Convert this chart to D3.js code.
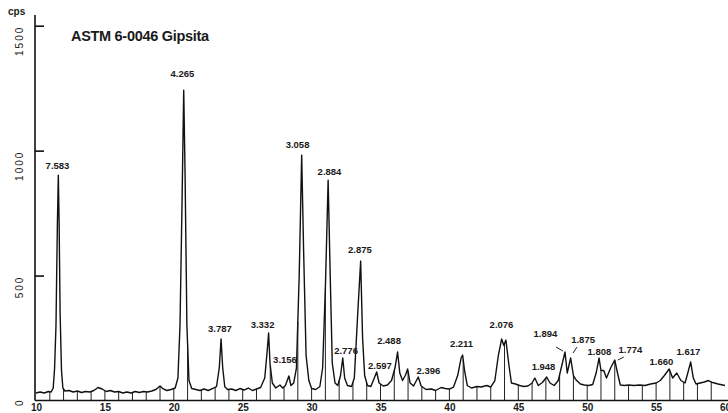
<!DOCTYPE html>
<html>
<head>
<meta charset="utf-8">
<script src="https://cdn.jsdelivr.net/npm/d3@7"></script>
<style>
  html, body { margin: 0; padding: 0; background: #fff; }
  svg { display: block; }
  text { font-family: "Liberation Sans", Arial, sans-serif; fill: #1a1a1a; }
</style>
</head>
<body>
<svg id="chart" width="728" height="413"></svg>
<script>
// 2-theta (deg) / intensity (cps)
const twoTheta = [
  10.0, 10.3, 10.6, 10.9, 11.1, 11.25, 11.35, 11.45, 11.55, 11.62, 11.68, 11.75, 11.85, 11.95,
  12.1, 12.4, 12.7, 13.0, 13.3, 13.6, 13.9, 14.2, 14.5, 14.8, 15.1, 15.4, 15.7, 16.0, 16.3,
  16.6, 16.9, 17.2, 17.5, 17.8, 18.1, 18.4, 18.7, 19.0, 19.2, 19.5, 19.8, 20.1, 20.3, 20.45,
  20.6, 20.72, 20.82, 20.95, 21.1, 21.3, 21.6, 21.9, 22.2, 22.5, 22.8, 23.1, 23.3, 23.43,
  23.55, 23.7, 23.9, 24.2, 24.5, 24.8, 25.1, 25.4, 25.7, 26.0, 26.3, 26.6, 26.78, 26.88,
  26.98, 27.15, 27.4, 27.7, 27.9, 28.1, 28.35, 28.5, 28.7, 28.9, 29.1, 29.28, 29.42, 29.6,
  29.8, 30.0, 30.3, 30.6, 30.8, 31.0, 31.2, 31.35, 31.5, 31.7, 31.9, 32.1, 32.26, 32.4,
  32.6, 32.9, 33.1, 33.35, 33.56, 33.7, 33.85, 34.05, 34.3, 34.55, 34.72, 34.9, 35.2, 35.5,
  35.8, 36.05, 36.24, 36.4, 36.6, 36.8, 36.97, 37.15, 37.4, 37.74, 37.95, 38.3, 38.7, 39.0,
  39.4, 39.7, 40.0, 40.3, 40.6, 40.85, 40.96, 41.1, 41.3, 41.6, 42.0, 42.3, 42.7, 43.0,
  43.3, 43.55, 43.79, 43.95, 44.1, 44.3, 44.5, 44.8, 45.1, 45.4, 45.7, 46.0, 46.2, 46.45,
  46.75, 47.06, 47.3, 47.6, 47.9, 48.2, 48.39, 48.55, 48.8, 49.0, 49.2, 49.5, 49.8, 50.1,
  50.4, 50.65, 50.86, 51.0, 51.2, 51.4, 51.7, 52.0, 52.2, 52.4, 52.7, 53.0, 53.4, 53.8,
  54.2, 54.6, 55.0, 55.3, 55.6, 55.95, 56.2, 56.5, 56.8, 57.1, 57.3, 57.51, 57.7, 57.9,
  58.2, 58.5, 58.8, 59.1, 59.5, 60.0
];
const counts = [
  30, 34, 30, 36, 34, 50, 130, 300, 700, 902, 700, 350, 120, 50,
  38, 40, 34, 38, 32, 36, 34, 40, 52, 46, 36, 40, 34, 36, 30,
  34, 30, 36, 32, 36, 34, 38, 44, 58, 48, 40, 44, 50, 90, 300,
  800, 1242, 900, 300, 80, 48, 44, 40, 46, 40, 48, 56, 130, 246,
  130, 55, 44, 46, 40, 48, 42, 50, 40, 46, 52, 90, 200, 270,
  150, 70, 50, 62, 50, 60, 98, 60, 70, 130, 500, 982, 600, 180,
  80, 48, 44, 56, 130, 450, 882, 500, 150, 70, 60, 100, 170, 90,
  60, 56, 90, 350, 558, 250, 100, 60, 56, 90, 114, 70, 58, 62,
  80, 130, 194, 110, 80, 100, 126, 70, 58, 94, 58, 44, 46, 40,
  52, 48, 46, 54, 100, 170, 182, 120, 60, 50, 56, 54, 60, 54,
  80, 180, 246, 220, 242, 150, 70, 66, 60, 56, 58, 70, 90, 60,
  72, 94, 70, 60, 80, 150, 194, 110, 170, 100, 82, 66, 62, 60,
  64, 110, 170, 120, 120, 90, 130, 162, 110, 62, 60, 62, 60, 62,
  60, 66, 70, 80, 100, 126, 90, 110, 80, 70, 110, 154, 90, 66,
  70, 74, 80, 72, 66, 60
];

// peak d-spacing labels: text, 2-theta, cps of the label baseline
const peakText = ["7.583", "4.265", "3.787", "3.332", "3.156", "3.058", "2.884", "2.776", "2.875",
  "2.597", "2.488", "2.396", "2.211", "2.076", "1.948", "1.894", "1.875", "1.808", "1.774", "1.660", "1.617"];
const peakLabelTheta = [11.56, 20.63, 23.35, 26.44, 28.07, 28.98, 31.30, 32.50, 33.51,
  34.96, 35.62, 38.48, 40.88, 43.78, 46.83, 46.97, 49.70, 50.89, 53.14, 55.39, 57.35];
const peakLabelCps = [926, 1294, 274, 290, 150, 1010, 902, 186, 590,
  126, 226, 106, 214, 290, 122, 254, 230, 182, 190, 142, 182];

// leader lines from label to peak: [theta1, cps1, theta2, cps2]
const leaders = [
  [47.74, 214, 48.24, 198],
  [49.26, 214, 48.97, 190],
  [52.66, 174, 52.22, 162]
];

const xTicks = [10, 15, 20, 25, 30, 35, 40, 45, 50, 55, 60];
const yTicks = [0, 500, 1000, 1500];

const svg = d3.select("#chart");

const x = d3.scaleLinear().domain([10, 60]).range([36, 725]);
const y = d3.scaleLinear().domain([0, 1500]).range([400.5, 25.7]);

const data = twoTheta.map((t, i) => ({ t: t, c: counts[i] }));

// degree hatch lines from the axis up to the trace
const bis = d3.bisector(d => d.t).left;
function traceAt(t) {
  let i = bis(data, t);
  if (i <= 0) return data[0].c;
  if (i >= data.length) return data[data.length - 1].c;
  let a = data[i - 1], b = data[i];
  return a.c + (b.c - a.c) * (t - a.t) / (b.t - a.t);
}

svg.append("g")
  .selectAll("line")
  .data(d3.range(11, 60))
  .join("line")
  .attr("x1", d => x(d)).attr("x2", d => x(d))
  .attr("y1", y(0)).attr("y2", d => y(traceAt(d)))
  .attr("stroke", "#222")
  .attr("stroke-width", 1);

// the scan trace
const line = d3.line().x(d => x(d.t)).y(d => y(d.c));
svg.append("path")
  .datum(data)
  .attr("d", line)
  .attr("fill", "none")
  .attr("stroke", "#111")
  .attr("stroke-width", 1.4)
  .attr("stroke-linejoin", "round");

// x axis
const xAxis = svg.append("g")
  .attr("transform", "translate(0," + y(0) + ")")
  .call(d3.axisBottom(x).tickValues(xTicks).tickSize(0).tickPadding(3).tickFormat(d3.format("d")));
xAxis.select(".domain").attr("stroke", "#111").attr("stroke-width", 1.6)
  .attr("d", "M35,0H728");
xAxis.selectAll("text")
  .attr("font-size", 10).attr("font-weight", "bold").attr("fill", "#1a1a1a")
  .attr("font-family", "Liberation Sans, Arial, sans-serif");

// y axis
const yAxis = svg.append("g")
  .attr("transform", "translate(35,0)")
  .call(d3.axisRight(y).tickValues(yTicks.slice(1)).tickSize(9).tickFormat(""));
yAxis.select(".domain").attr("stroke", "#111").attr("stroke-width", 1.6)
  .attr("d", "M0," + y(0) + "V15");
yAxis.selectAll(".tick line").attr("stroke", "#111").attr("stroke-width", 1.6);

svg.append("g")
  .selectAll("text")
  .data(yTicks)
  .join("text")
  .attr("transform", d => "translate(23," + y(d) + ") rotate(-90)")
  .attr("text-anchor", "end")
  .attr("font-size", 10)
  .attr("fill", "#111")
  .attr("letter-spacing", d => d === 0 ? 0 : 2)
  .text(d => d);

svg.append("text")
  .attr("x", 8).attr("y", 15)
  .attr("font-size", 10).attr("font-weight", "bold")
  .text("cps");

svg.append("text")
  .attr("x", 71).attr("y", 41)
  .attr("font-size", 14.5).attr("font-weight", "bold")
  .attr("letter-spacing", -0.3)
  .text("ASTM 6-0046 Gipsita");

// peak labels
svg.append("g")
  .selectAll("text")
  .data(peakText)
  .join("text")
  .attr("x", (d, i) => x(peakLabelTheta[i]))
  .attr("y", (d, i) => y(peakLabelCps[i]))
  .attr("text-anchor", "middle")
  .attr("font-size", 9.5)
  .attr("font-weight", "bold")
  .text(d => d);

svg.append("g")
  .selectAll("line")
  .data(leaders)
  .join("line")
  .attr("x1", d => x(d[0])).attr("y1", d => y(d[1]))
  .attr("x2", d => x(d[2])).attr("y2", d => y(d[3]))
  .attr("stroke", "#222").attr("stroke-width", 1);
</script>
</body>
</html>
